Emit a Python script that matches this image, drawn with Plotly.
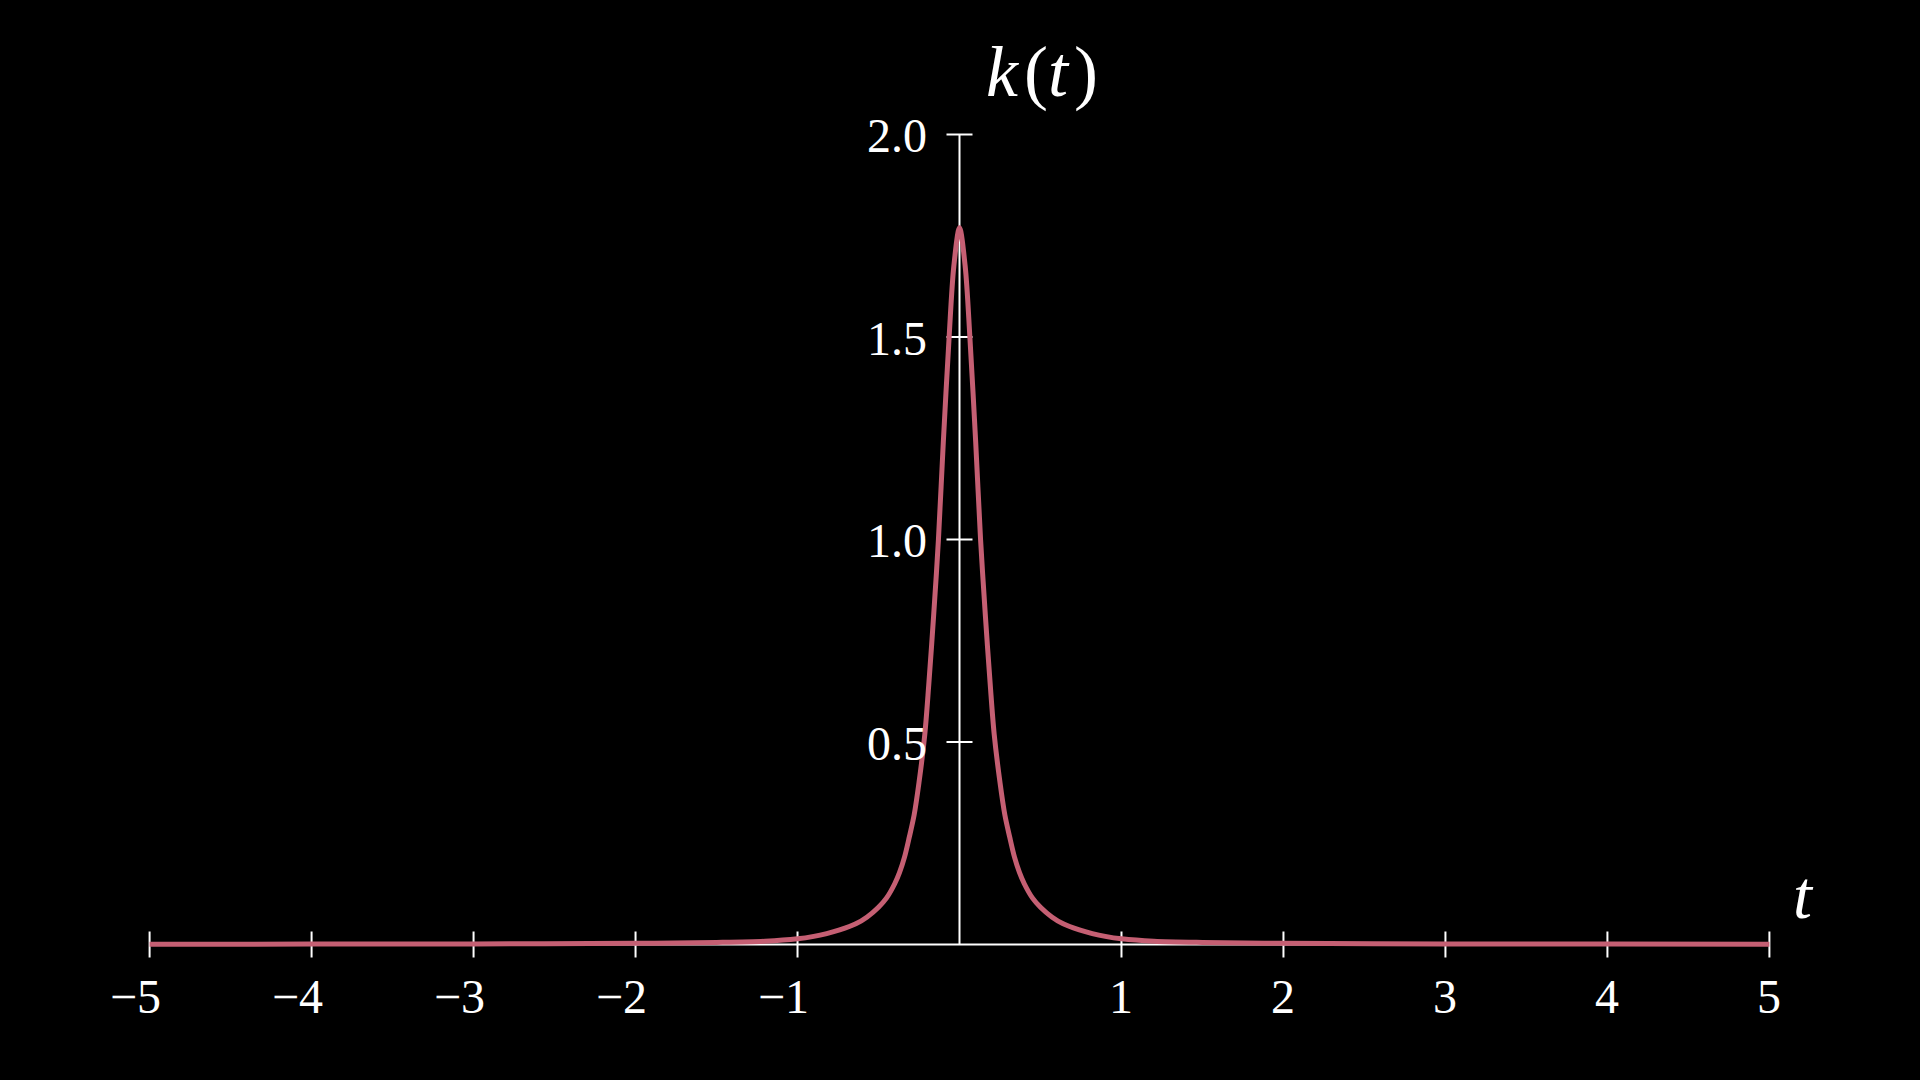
import plotly.graph_objects as go

# ---- data ----
t_pos = [0.0, 0.035, 0.064, 0.10, 0.13, 0.16, 0.19, 0.214, 0.25, 0.28, 0.31, 0.34,
         0.37, 0.40, 0.45, 0.5, 0.57, 0.64, 0.74, 0.82, 0.9, 1.0, 1.2, 1.5, 2.0, 3.0, 4.0, 5.0]
k_pos = [1.77, 1.675, 1.50, 1.24, 1.00, 0.81, 0.64, 0.52, 0.40, 0.32, 0.265, 0.215,
         0.178, 0.150, 0.115, 0.092, 0.068, 0.051, 0.036, 0.027, 0.020, 0.014, 0.008,
         0.005, 0.003, 0.0015, 0.001, 0.0005]
t_vals = [-v for v in t_pos[:0:-1]] + t_pos
k_vals = k_pos[:0:-1] + k_pos

x_ticks = [-5, -4, -3, -2, -1, 1, 2, 3, 4, 5]
x_tick_text = ["\u22125", "\u22124", "\u22123", "\u22122", "\u22121", "1", "2", "3", "4", "5"]
y_ticks = [0.5, 1.0, 1.5, 2.0]
y_tick_text = ["0.5", "1.0", "1.5", "2.0"]

X_AXIS = [-5, 5]
Y_AXIS = [0, 2]
X_VIEW = [-5.3, 5.3]
Y_VIEW = [-0.1, 2.1]

CURVE = "#C55F73"
AXIS = "#FFFFFF"
FONT = "Liberation Serif"

fig = go.Figure()
fig.add_trace(go.Scatter(x=t_vals, y=k_vals, mode="lines",
                         line=dict(color=CURVE, width=5, shape="spline", smoothing=0.9),
                         hoverinfo="skip", showlegend=False, cliponaxis=False))

shapes = []
# axes
shapes.append(dict(type="line", xref="x", yref="y", x0=X_AXIS[0], x1=X_AXIS[1], y0=0, y1=0,
                   line=dict(color=AXIS, width=2), layer="below"))
shapes.append(dict(type="line", xref="x", yref="y", x0=0, x1=0, y0=Y_AXIS[0], y1=Y_AXIS[1],
                   line=dict(color=AXIS, width=2), layer="below"))
# x ticks
for v in x_ticks:
    shapes.append(dict(type="line", xref="x", yref="y", x0=v, x1=v, ysizemode="pixel", yanchor=0,
                       y0=-13, y1=13, line=dict(color=AXIS, width=2), layer="below"))
# y ticks
for v in y_ticks:
    shapes.append(dict(type="line", xref="x", yref="y", y0=v, y1=v, xsizemode="pixel", xanchor=0,
                       x0=-13, x1=13, line=dict(color=AXIS, width=2), layer="below"))

annotations = []
for v, txt in zip(x_ticks, x_tick_text):
    annotations.append(dict(x=v, y=0, xref="x", yref="y", text=txt, showarrow=False,
                            xanchor="center", yanchor="middle",
                            xshift=(-14 if v < 0 else 0), yshift=-52,
                            font=dict(family=FONT, size=48, color=AXIS)))
for v, txt in zip(y_ticks, y_tick_text):
    annotations.append(dict(x=0, y=v, xref="x", yref="y", text=txt, showarrow=False,
                            xanchor="right", yanchor="middle", xshift=-31, yshift=-1,
                            font=dict(family=FONT, size=48, color=AXIS)))
annotations.append(dict(x=0, y=Y_AXIS[1], xref="x", yref="y",
                        text="<i>k</i>\u200a(<i>t</i>\u200a)",
                        showarrow=False, xanchor="left", yanchor="middle", xshift=24, yshift=63,
                        font=dict(family=FONT, size=72, color=AXIS)))
annotations.append(dict(x=X_AXIS[1], y=0, xref="x", yref="y", text="<i>t</i>",
                        showarrow=False, xanchor="left", yanchor="middle", xshift=22, yshift=50,
                        font=dict(family=FONT, size=68, color=AXIS)))

fig.update_layout(
    width=1920, height=1080,
    paper_bgcolor="#000000", plot_bgcolor="#000000",
    margin=dict(l=101, r=102, t=94, b=95, pad=0),
    xaxis=dict(range=X_VIEW, visible=False, fixedrange=True),
    yaxis=dict(range=Y_VIEW, visible=False, fixedrange=True),
    shapes=shapes, annotations=annotations, showlegend=False,
)

fig.write_html("out.html", config={"displayModeBar": False},
               post_script="document.body.style.margin='0';document.body.style.overflow='hidden';document.body.style.background='#000';")
